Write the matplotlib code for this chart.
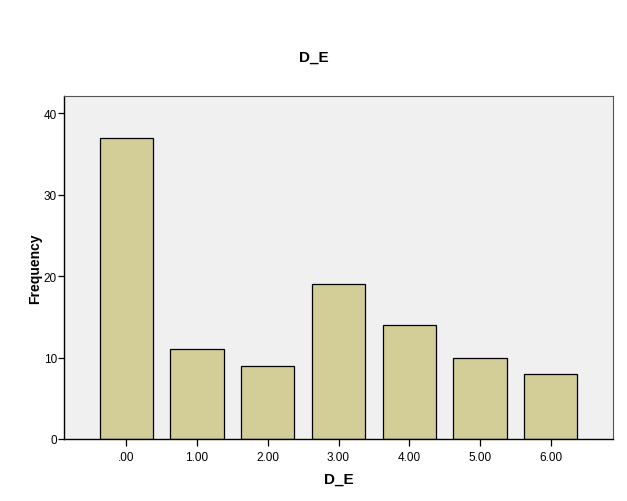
import numpy as np
import matplotlib
matplotlib.use("Agg")
import matplotlib.pyplot as plt

# data
categories = [".00", "1.00", "2.00", "3.00", "4.00", "5.00", "6.00"]
frequency = [37, 11, 9, 19, 14, 10, 8]

plt.rcParams['font.family'] = ['Arial', 'Liberation Sans', 'DejaVu Sans']

fig = plt.figure(figsize=(6.27, 5.02), dpi=100)
ax = fig.add_axes([64 / 627, 62 / 502, 549 / 627, 343 / 502])
ax.set_facecolor("#f0f0f0")

x = np.arange(len(categories))
ax.bar(x, frequency, width=0.75, color="#d3ce97", edgecolor="black", linewidth=0.9, zorder=2)

ax.set_xlim(-0.88, len(categories) - 1 + 0.88)
ax.set_ylim(0, 42.1)
ax.set_xticks(x)
ax.set_xticklabels(categories, fontsize=8.5)
ax.set_yticks([0, 10, 20, 30, 40])
ax.tick_params(axis='y', labelsize=8.5, length=4, width=0.9, pad=1)
ax.tick_params(axis='x', length=5, width=0.9, pad=4)

for s in ax.spines.values():
    s.set_color("#555555")
    s.set_linewidth(0.8)
ax.spines['left'].set_color("black")
ax.spines['bottom'].set_color("black")
ax.spines['left'].set_linewidth(1.0)
ax.spines['bottom'].set_linewidth(1.0)

ax.set_xlabel("D_E", fontsize=11, fontweight='bold', labelpad=6)
ax.set_ylabel("Frequency", fontsize=10, fontweight='bold', labelpad=1)
fig.text(314 / 627, 1 - 58 / 502, "D_E", ha='center', va='center', fontsize=11, fontweight='bold')

fig.savefig("out.png", dpi=100)
